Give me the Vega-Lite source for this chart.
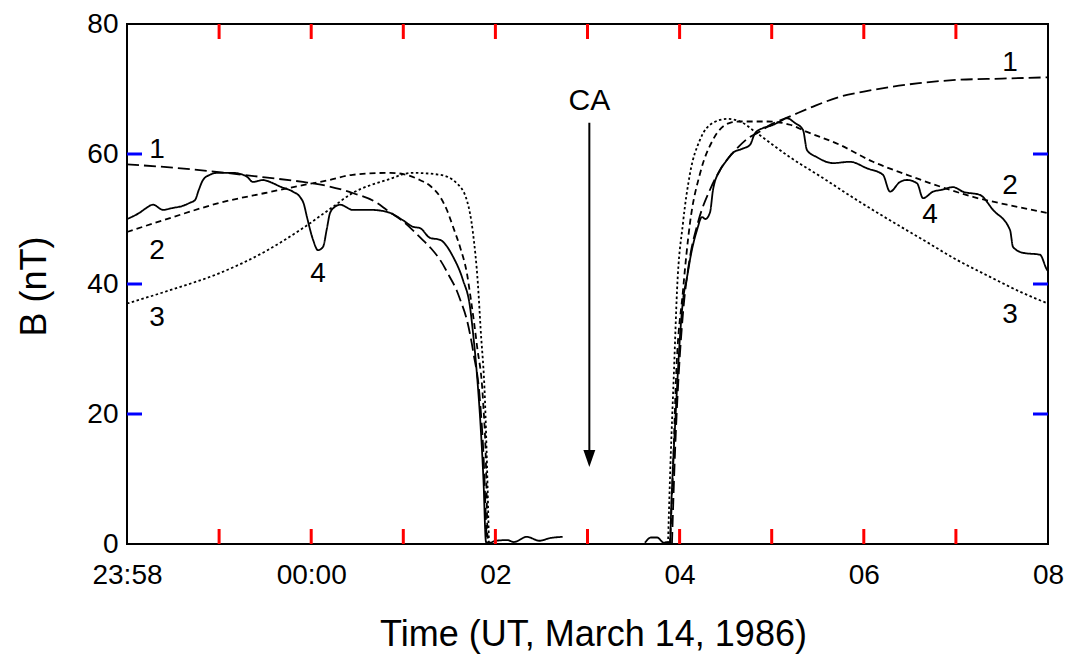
{
 "$schema": "https://vega.github.io/schema/vega-lite/v6.json",
 "width": 921, "height": 520,
 "autosize": {"type": "none"},
 "padding": {"left": 127, "top": 24, "right": 20, "bottom": 112},
 "background": "white",
 "config": {
  "view": {"stroke": "black", "strokeWidth": 2},
  "font": "Liberation Sans",
  "axis": {"domain": false, "ticks": false, "tickSize": 0, "grid": false,
   "labelColor": "black", "titleColor": "black", "labelFont": "Liberation Sans", "titleFont": "Liberation Sans",
   "labelFlush": false, "labelOverlap": false, "labelBound": false, "titleFontWeight": "normal"}
 },
 "datasets": {
  "ticks": [
   {"side":"bottom","t":-1,"b":0},{"side":"bottom","t":0,"b":0},{"side":"bottom","t":1,"b":0},{"side":"bottom","t":2,"b":0},{"side":"bottom","t":3,"b":0},{"side":"bottom","t":4,"b":0},{"side":"bottom","t":5,"b":0},{"side":"bottom","t":6,"b":0},{"side":"bottom","t":7,"b":0},
   {"side":"top","t":-1,"b":80},{"side":"top","t":0,"b":80},{"side":"top","t":1,"b":80},{"side":"top","t":2,"b":80},{"side":"top","t":3,"b":80},{"side":"top","t":4,"b":80},{"side":"top","t":5,"b":80},{"side":"top","t":6,"b":80},{"side":"top","t":7,"b":80},
   {"side":"left","t":-2,"b":20},{"side":"left","t":-2,"b":40},{"side":"left","t":-2,"b":60},
   {"side":"right","t":8,"b":20},{"side":"right","t":8,"b":40},{"side":"right","t":8,"b":60}
  ]
 },
 "layer": [
  {
   "data": {"values": [
    {"s":"obs","g":"o1","t":-2,"b":50.0},{"s":"obs","g":"o1","t":-1.967,"b":50.2},{"s":"obs","g":"o1","t":-1.859,"b":51.0},{"s":"obs","g":"o1","t":-1.8,"b":51.6},{"s":"obs","g":"o1","t":-1.718,"b":52.2},{"s":"obs","g":"o1","t":-1.609,"b":51.4},{"s":"obs","g":"o1","t":-1.501,"b":51.7},{"s":"obs","g":"o1","t":-1.4,"b":52.0},{"s":"obs","g":"o1","t":-1.316,"b":52.5},{"s":"obs","g":"o1","t":-1.262,"b":52.9},{"s":"obs","g":"o1","t":-1.22,"b":54.5},{"s":"obs","g":"o1","t":-1.175,"b":56.0},{"s":"obs","g":"o1","t":-1.1,"b":56.8},{"s":"obs","g":"o1","t":-1.023,"b":57.1},{"s":"obs","g":"o1","t":-0.849,"b":57.1},{"s":"obs","g":"o1","t":-0.76,"b":56.9},{"s":"obs","g":"o1","t":-0.697,"b":56.5},{"s":"obs","g":"o1","t":-0.632,"b":55.7},{"s":"obs","g":"o1","t":-0.523,"b":56.0},{"s":"obs","g":"o1","t":-0.43,"b":55.6},{"s":"obs","g":"o1","t":-0.339,"b":55.0},{"s":"obs","g":"o1","t":-0.198,"b":54.2},{"s":"obs","g":"o1","t":-0.122,"b":53.4},{"s":"obs","g":"o1","t":-0.08,"b":52.3},{"s":"obs","g":"o1","t":-0.046,"b":50.3},{"s":"obs","g":"o1","t":0.02,"b":46.8},{"s":"obs","g":"o1","t":0.074,"b":45.2},{"s":"obs","g":"o1","t":0.128,"b":45.7},{"s":"obs","g":"o1","t":0.17,"b":48.5},{"s":"obs","g":"o1","t":0.204,"b":50.9},{"s":"obs","g":"o1","t":0.26,"b":51.9},{"s":"obs","g":"o1","t":0.313,"b":52.2},{"s":"obs","g":"o1","t":0.454,"b":51.4},{"s":"obs","g":"o1","t":0.65,"b":51.4},{"s":"obs","g":"o1","t":0.823,"b":51.1},{"s":"obs","g":"o1","t":0.997,"b":49.8},{"s":"obs","g":"o1","t":1.105,"b":48.8},{"s":"obs","g":"o1","t":1.181,"b":48.6},{"s":"obs","g":"o1","t":1.29,"b":47.1},{"s":"obs","g":"o1","t":1.398,"b":46.8},{"s":"obs","g":"o1","t":1.54,"b":44.2},{"s":"obs","g":"o1","t":1.648,"b":40.6},{"s":"obs","g":"o1","t":1.724,"b":36.5},{"s":"obs","g":"o1","t":1.757,"b":32.5},{"s":"obs","g":"o1","t":1.8,"b":26},{"s":"obs","g":"o1","t":1.84,"b":18},{"s":"obs","g":"o1","t":1.87,"b":10},{"s":"obs","g":"o1","t":1.898,"b":0.3},{"s":"obs","g":"o1","t":1.94,"b":0.2},{"s":"obs","g":"o1","t":2.0,"b":0.5},{"s":"obs","g":"o1","t":2.13,"b":0.6},{"s":"obs","g":"o1","t":2.2,"b":0.3},{"s":"obs","g":"o1","t":2.34,"b":1.1},{"s":"obs","g":"o1","t":2.48,"b":0.5},{"s":"obs","g":"o1","t":2.59,"b":0.9},{"s":"obs","g":"o1","t":2.73,"b":1.1},
    {"s":"obs","g":"o2","t":3.624,"b":0.2},{"s":"obs","g":"o2","t":3.69,"b":1.0},{"s":"obs","g":"o2","t":3.755,"b":1.0},{"s":"obs","g":"o2","t":3.83,"b":0.2},{"s":"obs","g":"o2","t":3.863,"b":0.3},{"s":"obs","g":"o2","t":3.896,"b":0.3},{"s":"obs","g":"o2","t":3.91,"b":6},{"s":"obs","g":"o2","t":3.928,"b":12},{"s":"obs","g":"o2","t":3.95,"b":18},{"s":"obs","g":"o2","t":3.972,"b":24},{"s":"obs","g":"o2","t":4.0,"b":31},{"s":"obs","g":"o2","t":4.037,"b":37.5},{"s":"obs","g":"o2","t":4.08,"b":41},{"s":"obs","g":"o2","t":4.13,"b":45},{"s":"obs","g":"o2","t":4.189,"b":48.3},{"s":"obs","g":"o2","t":4.243,"b":50.3},{"s":"obs","g":"o2","t":4.28,"b":50.0},{"s":"obs","g":"o2","t":4.33,"b":51.0},{"s":"obs","g":"o2","t":4.363,"b":54.5},{"s":"obs","g":"o2","t":4.439,"b":57.5},{"s":"obs","g":"o2","t":4.5,"b":58.8},{"s":"obs","g":"o2","t":4.58,"b":60.2},{"s":"obs","g":"o2","t":4.68,"b":60.8},{"s":"obs","g":"o2","t":4.764,"b":61.4},{"s":"obs","g":"o2","t":4.819,"b":63.2},{"s":"obs","g":"o2","t":4.906,"b":64.0},{"s":"obs","g":"o2","t":5.0,"b":64.4},{"s":"obs","g":"o2","t":5.09,"b":65.0},{"s":"obs","g":"o2","t":5.166,"b":65.5},{"s":"obs","g":"o2","t":5.25,"b":64.8},{"s":"obs","g":"o2","t":5.34,"b":63.7},{"s":"obs","g":"o2","t":5.383,"b":60.6},{"s":"obs","g":"o2","t":5.492,"b":59.5},{"s":"obs","g":"o2","t":5.666,"b":58.6},{"s":"obs","g":"o2","t":5.85,"b":58.8},{"s":"obs","g":"o2","t":6.035,"b":57.8},{"s":"obs","g":"o2","t":6.208,"b":56.8},{"s":"obs","g":"o2","t":6.284,"b":54.2},{"s":"obs","g":"o2","t":6.393,"b":55.7},{"s":"obs","g":"o2","t":6.469,"b":56.0},{"s":"obs","g":"o2","t":6.578,"b":55.5},{"s":"obs","g":"o2","t":6.643,"b":53.2},{"s":"obs","g":"o2","t":6.751,"b":54.2},{"s":"obs","g":"o2","t":6.85,"b":54.5},{"s":"obs","g":"o2","t":6.969,"b":54.9},{"s":"obs","g":"o2","t":7.077,"b":54.2},{"s":"obs","g":"o2","t":7.262,"b":53.7},{"s":"obs","g":"o2","t":7.403,"b":51.4},{"s":"obs","g":"o2","t":7.588,"b":48.3},{"s":"obs","g":"o2","t":7.62,"b":45.7},{"s":"obs","g":"o2","t":7.729,"b":44.8},{"s":"obs","g":"o2","t":7.913,"b":44.5},{"s":"obs","g":"o2","t":7.989,"b":42.2},{"s":"obs","g":"o2","t":8.0,"b":42.0},
    {"s":"m1","g":"a1","t":-2,"b":58.4},{"s":"m1","g":"a1","t":-1.5,"b":57.9},{"s":"m1","g":"a1","t":-1,"b":57.2},{"s":"m1","g":"a1","t":-0.5,"b":56.4},{"s":"m1","g":"a1","t":-0.09,"b":55.7},{"s":"m1","g":"a1","t":0.2,"b":55.0},{"s":"m1","g":"a1","t":0.45,"b":54.0},{"s":"m1","g":"a1","t":0.7,"b":52.6},{"s":"m1","g":"a1","t":0.82,"b":51.4},{"s":"m1","g":"a1","t":1.0,"b":49.6},{"s":"m1","g":"a1","t":1.18,"b":47.2},{"s":"m1","g":"a1","t":1.3,"b":45.5},{"s":"m1","g":"a1","t":1.4,"b":43.7},{"s":"m1","g":"a1","t":1.5,"b":41.2},{"s":"m1","g":"a1","t":1.58,"b":39.0},{"s":"m1","g":"a1","t":1.62,"b":37.5},{"s":"m1","g":"a1","t":1.69,"b":34.5},{"s":"m1","g":"a1","t":1.76,"b":29.5},{"s":"m1","g":"a1","t":1.833,"b":22},{"s":"m1","g":"a1","t":1.876,"b":12},{"s":"m1","g":"a1","t":1.905,"b":0},
    {"s":"m1","g":"b1","t":3.917,"b":0},{"s":"m1","g":"b1","t":3.95,"b":14},{"s":"m1","g":"b1","t":3.99,"b":26},{"s":"m1","g":"b1","t":4.04,"b":36},{"s":"m1","g":"b1","t":4.1,"b":43},{"s":"m1","g":"b1","t":4.2,"b":49.5},{"s":"m1","g":"b1","t":4.33,"b":54.5},{"s":"m1","g":"b1","t":4.45,"b":57.8},{"s":"m1","g":"b1","t":4.6,"b":60.5},{"s":"m1","g":"b1","t":4.75,"b":62.5},{"s":"m1","g":"b1","t":4.84,"b":63.2},{"s":"m1","g":"b1","t":5.0,"b":64.6},{"s":"m1","g":"b1","t":5.2,"b":65.8},{"s":"m1","g":"b1","t":5.45,"b":67.3},{"s":"m1","g":"b1","t":5.74,"b":68.8},{"s":"m1","g":"b1","t":6.0,"b":69.6},{"s":"m1","g":"b1","t":6.28,"b":70.3},{"s":"m1","g":"b1","t":6.6,"b":70.9},{"s":"m1","g":"b1","t":7.01,"b":71.4},{"s":"m1","g":"b1","t":7.5,"b":71.6},{"s":"m1","g":"b1","t":8.0,"b":71.8},
    {"s":"m2","g":"a2","t":-2,"b":48.0},{"s":"m2","g":"a2","t":-1.5,"b":50.3},{"s":"m2","g":"a2","t":-0.99,"b":52.5},{"s":"m2","g":"a2","t":-0.5,"b":54.0},{"s":"m2","g":"a2","t":-0.09,"b":55.2},{"s":"m2","g":"a2","t":0.2,"b":56.0},{"s":"m2","g":"a2","t":0.45,"b":56.8},{"s":"m2","g":"a2","t":0.86,"b":57.1},{"s":"m2","g":"a2","t":1.0,"b":56.9},{"s":"m2","g":"a2","t":1.18,"b":56.0},{"s":"m2","g":"a2","t":1.3,"b":55.0},{"s":"m2","g":"a2","t":1.4,"b":53.4},{"s":"m2","g":"a2","t":1.47,"b":51.5},{"s":"m2","g":"a2","t":1.54,"b":48.8},{"s":"m2","g":"a2","t":1.62,"b":45.5},{"s":"m2","g":"a2","t":1.69,"b":41.7},{"s":"m2","g":"a2","t":1.735,"b":37.5},{"s":"m2","g":"a2","t":1.8,"b":30.5},{"s":"m2","g":"a2","t":1.866,"b":22},{"s":"m2","g":"a2","t":1.898,"b":12},{"s":"m2","g":"a2","t":1.915,"b":0},
    {"s":"m2","g":"b2","t":3.896,"b":0},{"s":"m2","g":"b2","t":3.93,"b":12},{"s":"m2","g":"b2","t":3.96,"b":25},{"s":"m2","g":"b2","t":4.037,"b":39},{"s":"m2","g":"b2","t":4.113,"b":49.4},{"s":"m2","g":"b2","t":4.222,"b":57},{"s":"m2","g":"b2","t":4.363,"b":62.2},{"s":"m2","g":"b2","t":4.547,"b":64.8},{"s":"m2","g":"b2","t":4.656,"b":65},{"s":"m2","g":"b2","t":4.949,"b":65},{"s":"m2","g":"b2","t":5.199,"b":64.5},{"s":"m2","g":"b2","t":5.383,"b":63.4},{"s":"m2","g":"b2","t":5.741,"b":61.4},{"s":"m2","g":"b2","t":6.1,"b":58.8},{"s":"m2","g":"b2","t":6.469,"b":56.8},{"s":"m2","g":"b2","t":6.827,"b":55},{"s":"m2","g":"b2","t":7.186,"b":53.4},{"s":"m2","g":"b2","t":7.555,"b":52.2},{"s":"m2","g":"b2","t":8.0,"b":50.9},
    {"s":"m3","g":"a3","t":-2,"b":37.0},{"s":"m3","g":"a3","t":-1.5,"b":39.2},{"s":"m3","g":"a3","t":-0.99,"b":41.7},{"s":"m3","g":"a3","t":-0.5,"b":45.0},{"s":"m3","g":"a3","t":-0.09,"b":48.6},{"s":"m3","g":"a3","t":0.2,"b":51.5},{"s":"m3","g":"a3","t":0.45,"b":54.0},{"s":"m3","g":"a3","t":0.82,"b":56.0},{"s":"m3","g":"a3","t":1.1,"b":57.1},{"s":"m3","g":"a3","t":1.4,"b":56.8},{"s":"m3","g":"a3","t":1.58,"b":55.5},{"s":"m3","g":"a3","t":1.69,"b":52.9},{"s":"m3","g":"a3","t":1.757,"b":47.8},{"s":"m3","g":"a3","t":1.81,"b":40},{"s":"m3","g":"a3","t":1.84,"b":33},{"s":"m3","g":"a3","t":1.887,"b":22},{"s":"m3","g":"a3","t":1.909,"b":12},{"s":"m3","g":"a3","t":1.93,"b":0},
    {"s":"m3","g":"b3","t":3.874,"b":0},{"s":"m3","g":"b3","t":3.9,"b":12},{"s":"m3","g":"b3","t":3.94,"b":27},{"s":"m3","g":"b3","t":3.972,"b":39},{"s":"m3","g":"b3","t":4.037,"b":49.4},{"s":"m3","g":"b3","t":4.113,"b":57},{"s":"m3","g":"b3","t":4.222,"b":62.2},{"s":"m3","g":"b3","t":4.363,"b":64.8},{"s":"m3","g":"b3","t":4.515,"b":65.4},{"s":"m3","g":"b3","t":4.656,"b":65},{"s":"m3","g":"b3","t":4.84,"b":63.2},{"s":"m3","g":"b3","t":5.199,"b":59.5},{"s":"m3","g":"b3","t":5.557,"b":56.3},{"s":"m3","g":"b3","t":5.926,"b":52.9},{"s":"m3","g":"b3","t":6.284,"b":49.8},{"s":"m3","g":"b3","t":6.643,"b":46.8},{"s":"m3","g":"b3","t":7.012,"b":43.7},{"s":"m3","g":"b3","t":7.37,"b":41.1},{"s":"m3","g":"b3","t":7.729,"b":38.6},{"s":"m3","g":"b3","t":8.0,"b":37.0}
   ]},
   "mark": {"type": "line", "color": "black", "strokeWidth": 1.8, "strokeCap": "butt", "interpolate": "monotone"},
   "encoding": {
    "x": {"field": "t", "type": "quantitative", "scale": {"domain": [-2, 8], "nice": false, "zero": false},
     "axis": {"orient": "bottom", "values": [-2,-1,0,1,2,3,4,5,6,7,8], "labelFontSize": 28, "labelPadding": 17,
      "labelExpr": "datum.value == -2 ? '23:58' : datum.value == 0 ? '00:00' : (datum.value % 2 == 0 ? '0' + datum.value : '')",
      "title": "Time (UT, March 14, 1986)", "titleFontSize": 36, "titleX": 466, "titleY": 101, "titleBaseline": "alphabetic", "titleAlign": "center"}},
    "y": {"field": "b", "type": "quantitative", "scale": {"domain": [0, 80], "nice": false},
     "axis": {"orient": "left", "values": [0,20,40,60,80], "labelFontSize": 28, "labelPadding": 9,
      "title": "B (nT)", "titleFontSize": 36, "titleX": -82, "titleY": 262, "titleAngle": 270, "titleBaseline": "alphabetic", "titleAlign": "center"}},
    "strokeDash": {"field": "s", "type": "nominal", "scale": {"domain": ["obs","m1","m2","m3"], "range": [[1,0],[12,5],[6,4],[2.5,2.5]]}, "legend": null},
    "detail": {"field": "g", "type": "nominal"}
   }
  },
  {
   "data": {"name": "ticks"},
   "transform": [{"filter": "datum.side == 'bottom'"}],
   "mark": {"type": "tick", "orient": "vertical", "size": 15, "thickness": 3, "color": "red", "opacity": 1, "yOffset": -7.5},
   "encoding": {"x": {"field": "t", "type": "quantitative"}, "y": {"field": "b", "type": "quantitative"}}
  },
  {
   "data": {"name": "ticks"},
   "transform": [{"filter": "datum.side == 'top'"}],
   "mark": {"type": "tick", "orient": "vertical", "size": 15, "thickness": 3, "color": "red", "opacity": 1, "yOffset": 7.5},
   "encoding": {"x": {"field": "t", "type": "quantitative"}, "y": {"field": "b", "type": "quantitative"}}
  },
  {
   "data": {"name": "ticks"},
   "transform": [{"filter": "datum.side == 'left'"}],
   "mark": {"type": "tick", "orient": "horizontal", "size": 15, "thickness": 3, "color": "blue", "opacity": 1, "xOffset": 7.5},
   "encoding": {"x": {"field": "t", "type": "quantitative"}, "y": {"field": "b", "type": "quantitative"}}
  },
  {
   "data": {"name": "ticks"},
   "transform": [{"filter": "datum.side == 'right'"}],
   "mark": {"type": "tick", "orient": "horizontal", "size": 15, "thickness": 3, "color": "blue", "opacity": 1, "xOffset": -7.5},
   "encoding": {"x": {"field": "t", "type": "quantitative"}, "y": {"field": "b", "type": "quantitative"}}
  },
  {
   "data": {"values": [
    {"lab":"1","t":-1.674,"b":59.4},{"lab":"2","t":-1.674,"b":43.8},{"lab":"3","t":-1.674,"b":33.5},{"lab":"4","t":0.074,"b":40.3},
    {"lab":"1","t":7.587,"b":72.8},{"lab":"2","t":7.587,"b":53.8},{"lab":"4","t":6.719,"b":49.4},{"lab":"3","t":7.587,"b":34.0}
   ]},
   "mark": {"type": "text", "fontSize": 28, "font": "Liberation Sans", "baseline": "alphabetic", "align": "center", "color": "black"},
   "encoding": {
    "x": {"field": "t", "type": "quantitative"},
    "y": {"field": "b", "type": "quantitative"},
    "text": {"field": "lab"}
   }
  },
  {
   "data": {"values": [{"lab":"CA","t":3.02,"b":66.8}]},
   "mark": {"type": "text", "fontSize": 30, "font": "Liberation Sans", "baseline": "alphabetic", "align": "center", "color": "black"},
   "encoding": {
    "x": {"field": "t", "type": "quantitative"},
    "y": {"field": "b", "type": "quantitative"},
    "text": {"field": "lab"}
   }
  },
  {
   "data": {"values": [{"t":3.02,"b":64.8,"b2":13.5}]},
   "mark": {"type": "rule", "color": "black", "strokeWidth": 2},
   "encoding": {
    "x": {"field": "t", "type": "quantitative"},
    "y": {"field": "b", "type": "quantitative"},
    "y2": {"field": "b2"}
   }
  },
  {
   "data": {"values": [{"t":3.02,"b":13.15}]},
   "mark": {"type": "point", "shape": "M -0.7 -1 L 0.7 -1 L 0 1 Z", "size": 289, "filled": true, "color": "black", "opacity": 1},
   "encoding": {
    "x": {"field": "t", "type": "quantitative"},
    "y": {"field": "b", "type": "quantitative"}
   }
  }
 ]
}
